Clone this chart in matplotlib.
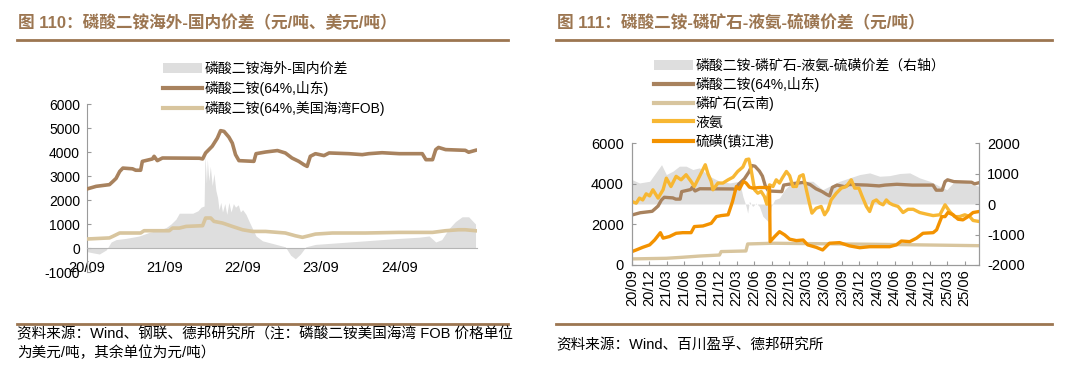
import matplotlib
matplotlib.use('Agg')
import matplotlib.pyplot as plt
import matplotlib.dates as mdates
from matplotlib.lines import Line2D
from matplotlib.patches import Patch
import pandas as pd

plt.rcParams['font.family'] = ['Liberation Sans', 'Noto Sans CJK SC', 'DejaVu Sans']
plt.rcParams['axes.unicode_minus'] = False

BROWN = '#A8825E'
TAN = '#D8C59E'
YELLOW = '#F7B733'
ORANGE = '#F39200'
GRAY = '#DEDEDE'
TITLE_C = '#9C7651'
SPINE = '#9A9A9A'

# ---- data: DAP 64% Shandong (CNY/t), used in both charts
dap_dates = ['2020-09-01', '2020-10-14', '2020-12-15', '2021-01-01', '2021-01-15', '2021-02-01', '2021-02-16',
             '2021-04-02', '2021-04-17', '2021-05-10', '2021-05-18', '2021-07-04', '2021-07-12', '2021-07-27',
             '2021-08-20', '2022-02-09', '2022-02-24', '2022-03-10', '2022-04-10', '2022-05-04', '2022-05-19',
             '2022-06-04', '2022-06-27', '2022-07-13', '2022-07-28', '2022-08-13', '2022-10-22', '2022-11-01',
             '2022-12-16', '2023-02-09', '2023-03-18', '2023-04-18', '2023-05-20', '2023-06-13', '2023-06-28',
             '2023-07-13', '2023-08-06', '2023-09-15', '2023-10-09', '2024-01-10', '2024-03-12', '2024-04-12',
             '2024-06-13', '2024-09-01', '2024-12-18', '2025-01-04', '2025-02-04', '2025-02-19', '2025-03-04',
             '2025-04-06', '2025-07-07', '2025-07-23', '2025-08-24']
dap_sd = [2460, 2570, 2640, 2780, 2900, 3190, 3330, 3300, 3240, 3240, 3610, 3710, 3820, 3640, 3750,
          3740, 3710, 3960, 4240, 4580, 4890, 4860, 4620, 4370, 3890, 3640, 3610, 3930, 4000, 4060,
          3960, 3750, 3610, 3470, 3400, 3820, 3930, 3850, 3960, 3930, 3890, 3930, 3970, 3930, 3930,
          3680, 3680, 4100, 4190, 4100, 4070, 3990, 4070]

# DAP 64% US Gulf FOB (USD/t)
fob_dates = ['2020-09-01', '2020-12-15', '2021-01-01', '2021-02-01', '2021-05-10', '2021-05-26', '2021-09-21',
             '2021-10-06', '2021-11-07', '2021-12-09', '2022-02-24', '2022-03-10', '2022-04-03', '2022-04-18',
             '2022-05-28', '2022-07-13', '2022-08-30', '2022-10-15', '2022-12-16', '2023-03-18', '2023-05-04',
             '2023-06-06', '2023-07-06', '2023-08-06', '2023-10-24', '2024-03-27', '2024-09-01', '2025-02-04',
             '2025-04-06', '2025-06-06', '2025-07-07', '2025-08-24']
dap_fob = [375, 420, 490, 625, 625, 720, 720, 830, 830, 900, 930, 1250, 1250, 1110, 1040, 900,
           760, 690, 690, 625, 510, 445, 510, 580, 625, 625, 650, 650, 720, 760, 760, 720]

# overseas - domestic spread
gap_dates = ['2020-09-01', '2020-09-28', '2020-10-29', '2020-11-30', '2020-12-23', '2021-01-15', '2021-03-02',
             '2021-05-03', '2021-06-19', '2021-08-05', '2021-09-06', '2021-09-29', '2021-10-22', '2021-11-07',
             '2022-01-09', '2022-02-02', '2022-02-17', '2022-03-03', '2022-03-07', '2022-03-14', '2022-03-18',
             '2022-03-25', '2022-04-01', '2022-04-10', '2022-04-18', '2022-04-27', '2022-05-05', '2022-05-12',
             '2022-05-20', '2022-05-28', '2022-06-08', '2022-06-17', '2022-06-27', '2022-07-07', '2022-07-18',
             '2022-07-28', '2022-08-10', '2022-08-20', '2022-08-30', '2022-09-15', '2022-09-30', '2022-11-01',
             '2022-12-01', '2023-02-03', '2023-03-18', '2023-04-12', '2023-05-04', '2023-05-28', '2023-06-22',
             '2023-08-06', '2023-10-24', '2024-01-10', '2024-03-27', '2024-06-13', '2024-09-01', '2024-12-03',
             '2025-01-19', '2025-02-19', '2025-03-19', '2025-04-21', '2025-05-22', '2025-06-22', '2025-07-23',
             '2025-08-24']
gap = [-150, -200, -250, -80, 250, 350, 400, 500, 650, 750, 850, 1000, 1200, 1450,
       1450, 1550, 1700, 1750, 3900, 2700, 3700, 2800, 3400, 2600, 3100, 2400, 2100, 1600,
       1900, 1500, 1850, 1400, 1900, 1500, 1850, 1700, 1800, 1500, 1600, 1400, 1100, 500,
       300, 150, 50, -300, -450, -250, 50, 150, 200, 250, 300, 350, 400, 450,
       500, 250, 350, 800, 1100, 1300, 1300, 1000]

# phosphate rock (Yunnan)
rock_dates = ['2020-09-01', '2021-02-27', '2021-05-22', '2021-08-18', '2021-12-01', '2021-12-10',
              '2022-04-18', '2022-04-27', '2022-09-06', '2024-02-09', '2025-08-15']
rock = [300, 330, 380, 440, 490, 660, 690, 1035, 1070, 1020, 950]

# liquid ammonia
nh3_dates = ['2020-09-01', '2020-09-23', '2020-10-10', '2020-10-27', '2020-11-14', '2020-12-02', '2020-12-19',
             '2021-01-15', '2021-02-10', '2021-02-27', '2021-03-23', '2021-04-19', '2021-05-15', '2021-06-10',
             '2021-07-06', '2021-07-23', '2021-08-19', '2021-09-18', '2021-10-02', '2021-10-19', '2021-10-28',
             '2021-11-23', '2021-12-19', '2022-01-15', '2022-02-10', '2022-03-06', '2022-04-02', '2022-04-19',
             '2022-05-03', '2022-05-15', '2022-06-02', '2022-06-19', '2022-07-06', '2022-07-23', '2022-08-05',
             '2022-08-19', '2022-09-06', '2022-09-23', '2022-10-10', '2022-10-24', '2022-11-15', '2022-12-02',
             '2022-12-19', '2023-01-06', '2023-01-23', '2023-02-10', '2023-02-27', '2023-03-15', '2023-03-28',
             '2023-04-19', '2023-05-15', '2023-06-02', '2023-06-19', '2023-07-06', '2023-08-02', '2023-08-28',
             '2023-09-23', '2023-10-19', '2023-11-06', '2023-11-28', '2023-12-15', '2024-01-06', '2024-01-23',
             '2024-02-10', '2024-02-27', '2024-03-15', '2024-04-02', '2024-04-19', '2024-05-06', '2024-05-23',
             '2024-06-19', '2024-07-15', '2024-08-10', '2024-09-06', '2024-10-10', '2024-11-15', '2024-12-19',
             '2025-01-23', '2025-02-19', '2025-03-15', '2025-04-10', '2025-05-06', '2025-06-02', '2025-06-28',
             '2025-07-15', '2025-08-15']
nh3 = [3120, 3040, 3290, 3200, 3500, 3400, 3700, 3290, 3700, 4270, 3860, 4360, 4190, 4440, 4110, 3860,
       4360, 4930, 4490, 4110, 3700, 4030, 4030, 4190, 4320, 4600, 4820, 5180, 5210, 4690, 3700, 3530,
       3620, 3370, 2990, 3940, 3860, 4190, 4030, 4270, 4600, 4390, 3860, 3860, 4360, 4440, 3700, 3040,
       2550, 2790, 2880, 2470, 2710, 3200, 3530, 3780, 3860, 4190, 3780, 3780, 3370, 2880, 2630, 3120,
       3200, 3040, 2960, 3200, 3040, 2960, 2880, 2580, 2740, 2740, 2580, 2500, 2430, 2470, 2960, 2630,
       2380, 2380, 2470, 2380, 2190, 2140]

# sulphur (Zhenjiang port)
s_dates = ['2020-09-01', '2020-09-23', '2020-10-27', '2020-12-02', '2020-12-28', '2021-01-27', '2021-02-10',
           '2021-03-15', '2021-04-19', '2021-05-23', '2021-07-06', '2021-07-23', '2021-09-06', '2021-10-19',
           '2021-11-15', '2021-12-10', '2022-01-15', '2022-02-07', '2022-02-27', '2022-03-15', '2022-04-05',
           '2022-04-19', '2022-05-06', '2022-05-23', '2022-06-27', '2022-08-19', '2022-08-22', '2022-09-15',
           '2022-10-10', '2022-11-06', '2022-12-02', '2023-01-06', '2023-02-10', '2023-03-06', '2023-04-19',
           '2023-05-23', '2023-06-27', '2023-08-19', '2023-10-10', '2023-12-02', '2024-01-23', '2024-05-06',
           '2024-06-10', '2024-07-06', '2024-08-19', '2024-09-23', '2024-10-27', '2024-12-19', '2025-01-06',
           '2025-02-02', '2025-02-19', '2025-03-06', '2025-04-02', '2025-04-28', '2025-05-23', '2025-06-19',
           '2025-07-15', '2025-08-15']
sulphur = [660, 740, 870, 990, 1230, 1590, 1320, 1400, 1560, 1590, 1590, 1890, 1920, 2050, 2380, 2430,
           2470, 3120, 3860, 3730, 4110, 4030, 3830, 3780, 3810, 3810, 1150, 1400, 1640, 1480, 1270, 1200,
           1230, 990, 870, 740, 1070, 1100, 940, 850, 900, 900, 990, 1180, 1150, 1320, 1560, 1590, 1730,
           2380, 2380, 2580, 2470, 2250, 2220, 2380, 2580, 2630]

# DAP - rock - ammonia - sulphur spread (right axis)
sp_dates = ['2020-09-01', '2020-10-10', '2020-12-02', '2021-02-02', '2021-02-27', '2021-04-02', '2021-05-06',
            '2021-06-10', '2021-07-15', '2021-08-19', '2021-10-10', '2021-12-02', '2022-01-23', '2022-03-15',
            '2022-04-02', '2022-04-19', '2022-04-27', '2022-05-06', '2022-05-23', '2022-06-10', '2022-06-27',
            '2022-07-15', '2022-08-02', '2022-08-19', '2022-08-28', '2022-09-15', '2022-10-10', '2022-11-06',
            '2022-12-02', '2022-12-28', '2023-01-23', '2023-02-27', '2023-04-02', '2023-05-23', '2023-06-27',
            '2023-08-19', '2023-10-10', '2023-12-02', '2024-01-23', '2024-03-15', '2024-05-06', '2024-06-28',
            '2024-08-19', '2024-10-10', '2024-12-02', '2025-01-23', '2025-02-28', '2025-04-02', '2025-05-23',
            '2025-07-15', '2025-08-15']
spread = [800, 690, 745, 1290, 965, 1075, 1240, 1240, 1130, 1185, 910, 745, 690, 745, 250, -80, -300,
          90, -80, 30, -80, -400, -515, -625, -80, 140, 200, 470, 635, 525, 690, 745, 745, 470, 580, 745,
          855, 965, 1020, 910, 930, 1000, 1020, 855, 745, 580, 470, 690, 745, 635, 580]

W, H = 1075, 372
fig = plt.figure(figsize=(W / 100, H / 100), dpi=100)
fig.patch.set_facecolor('white')


def fx(px):
    return px / W


def fy(py):
    return 1 - py / H


def d(lst):
    return pd.to_datetime(lst)


# ---------------- titles, rules, sources
fig.text(fx(18), fy(23), '图 110：磷酸二铵海外-国内价差（元/吨、美元/吨）', fontsize=12, fontweight='bold',
         color=TITLE_C, va='center', ha='left')
fig.text(fx(557), fy(23), '图 111：磷酸二铵-磷矿石-液氨-硫磺价差（元/吨）', fontsize=12, fontweight='bold',
         color=TITLE_C, va='center', ha='left')
for x0, x1 in [(17, 508), (556, 1052)]:
    for yy in (40, 324):
        fig.add_artist(Line2D([fx(x0), fx(x1)], [fy(yy), fy(yy)], transform=fig.transFigure,
                              color=TITLE_C, lw=2))
fig.text(fx(17), fy(334), '资料来源：Wind、钢联、德邦研究所（注：磷酸二铵美国海湾 FOB 价格单位',
         fontsize=10.5, va='center', ha='left')
fig.text(fx(17), fy(353), '为美元/吨，其余单位为元/吨）', fontsize=10.5, va='center', ha='left')
fig.text(fx(556), fy(345), '资料来源：Wind、百川盈孚、德邦研究所', fontsize=10.5, va='center', ha='left')

# ---------------- left chart
ax = fig.add_axes([fx(87), fy(272), fx(477 - 87), (272 - 104) / H])
ax.fill_between(d(gap_dates), 0, gap, color=GRAY, lw=0, zorder=1)
ax.plot(d(dap_dates), dap_sd, color=BROWN, lw=2.6, zorder=3)
ax.plot(d(fob_dates), dap_fob, color=TAN, lw=2.6, zorder=3)
ax.set_ylim(-1000, 6000)
ax.set_yticks(range(-1000, 6001, 1000))
ax.set_xlim(pd.Timestamp('2020-09-01'), pd.Timestamp('2025-08-31'))
ax.set_xticks(d(['2020-09-01', '2021-09-01', '2022-09-01', '2023-09-01', '2024-09-01']))
ax.xaxis.set_major_formatter(mdates.DateFormatter('%y/%m'))
for s in ['top', 'right']:
    ax.spines[s].set_visible(False)
ax.spines['bottom'].set_position(('data', 0))
ax.spines['bottom'].set_color('#B5B5B5')
ax.spines['left'].set_color(SPINE)
ax.tick_params(axis='y', direction='in', length=3, color=SPINE, labelsize=10, pad=5)
ax.tick_params(axis='x', length=0, labelsize=10.5, pad=9)
ax.set_facecolor('none')

h1 = [Patch(facecolor=GRAY, edgecolor='none'),
      Line2D([], [], color=BROWN, lw=3),
      Line2D([], [], color=TAN, lw=3)]
fig.legend(h1, ['磷酸二铵海外-国内价差', '磷酸二铵(64%,山东)', '磷酸二铵(64%,美国海湾FOB)'],
           loc='upper left', bbox_to_anchor=(fx(163), fy(62)), frameon=False, fontsize=10,
           handlelength=2.8, handleheight=0.8, handletextpad=0.2, labelspacing=0.35, borderpad=0,
           borderaxespad=0)

# ---------------- right chart
axl = fig.add_axes([fx(632), fy(265), fx(979 - 632), (265 - 143) / H])
axr = axl.twinx()
axr.fill_between(d(sp_dates), 0, spread, color=GRAY, lw=0)
axl.plot(d(dap_dates), dap_sd, color=BROWN, lw=2.4)
axl.plot(d(rock_dates), rock, color=TAN, lw=2.4)
axl.plot(d(nh3_dates), nh3, color=YELLOW, lw=2.4)
axl.plot(d(s_dates), sulphur, color=ORANGE, lw=2.4)
axl.set_zorder(axr.get_zorder() + 1)
axl.patch.set_visible(False)

axl.set_ylim(0, 6000)
axl.set_yticks(range(0, 6001, 2000))
axr.set_ylim(-2000, 2000)
axr.set_yticks(range(-2000, 2001, 1000))
axl.set_xlim(pd.Timestamp('2020-09-01'), pd.Timestamp('2025-08-15'))
axl.set_xticks(pd.date_range('2020-09-01', '2025-06-01', freq='3MS'))
axl.xaxis.set_major_formatter(mdates.DateFormatter('%y/%m'))
for a in (axl, axr):
    a.spines['top'].set_visible(False)
    for s in ['left', 'right', 'bottom']:
        a.spines[s].set_color(SPINE)
axl.tick_params(axis='y', direction='in', length=3, color=SPINE, labelsize=10.5, pad=6)
axr.tick_params(axis='y', direction='in', length=3, color=SPINE, labelsize=10.5, pad=6)
axl.tick_params(axis='x', direction='in', length=3, color=SPINE, labelsize=10.5, pad=3, rotation=90)

h2 = [Patch(facecolor=GRAY, edgecolor='none'),
      Line2D([], [], color=BROWN, lw=3),
      Line2D([], [], color=TAN, lw=3),
      Line2D([], [], color=YELLOW, lw=3),
      Line2D([], [], color=ORANGE, lw=3)]
fig.legend(h2, ['磷酸二铵-磷矿石-液氨-硫磺价差（右轴）', '磷酸二铵(64%,山东)', '磷矿石(云南)', '液氨',
                '硫磺(镇江港)'],
           loc='upper left', bbox_to_anchor=(fx(654), fy(59)), frameon=False, fontsize=10,
           handlelength=2.8, handleheight=0.8, handletextpad=0.2, labelspacing=0.3, borderpad=0,
           borderaxespad=0)

fig.savefig('out.png', dpi=100, facecolor='white')
